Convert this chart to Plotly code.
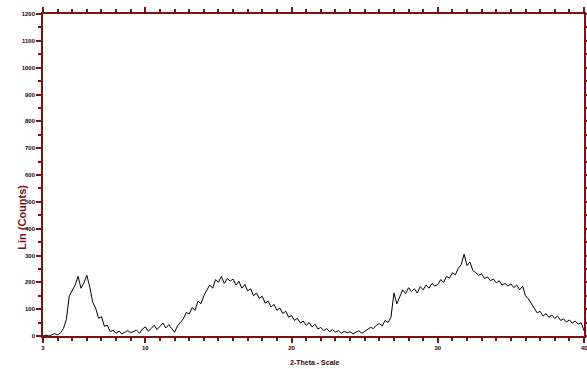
import plotly.graph_objects as go

# 2-theta scan: start 3.0 deg, step 0.2 deg
theta_start = 3.0
theta_step = 0.2

counts = [
    0, 3, 0, 6, 9,            # 3
    4, 12, 28, 62, 150,       # 4
    172, 190, 222, 178, 198,  # 5
    226, 182, 126, 104, 66,   # 6
    72, 36, 40, 16, 22,       # 7
    10, 18, 8, 14, 20,        # 8
    12, 16, 22, 10, 26,       # 9
    34, 18, 28, 40, 24,       # 10
    36, 48, 30, 42, 28,       # 11
    14, 38, 52, 64, 88,       # 12
    82, 106, 96, 130, 120,    # 13
    150, 172, 190, 178, 210,  # 14
    200, 222, 196, 214, 205,  # 15
    212, 190, 204, 178, 192,  # 16
    168, 176, 150, 160, 140,  # 17
    148, 122, 130, 108, 118,  # 18
    96, 104, 84, 92, 70,      # 19
    76, 58, 66, 48, 56,       # 20
    40, 50, 34, 44, 26,       # 21
    32, 20, 28, 16, 24,       # 22
    14, 20, 10, 18, 12,       # 23
    16, 8, 14, 20, 10,        # 24
    18, 24, 32, 28, 40,       # 25
    46, 38, 58, 50, 70,       # 26
    160, 120, 150, 172, 158,  # 27
    180, 166, 176, 160, 184,  # 28
    172, 190, 178, 196, 186,  # 29
    192, 210, 200, 222, 216,  # 30
    236, 228, 252, 266, 305,  # 31
    262, 276, 244, 236, 226,  # 32
    232, 214, 220, 206, 212,  # 33
    198, 206, 190, 196, 186,  # 34
    194, 180, 190, 172, 186,  # 35
    150, 138, 120, 104, 86,   # 36
    92, 74, 84, 70, 78,       # 37
    66, 74, 58, 64, 52,       # 38
    60, 48, 56, 44, 50,       # 39
    20,                       # 40
]
two_theta = [round(theta_start + theta_step * i, 2) for i in range(len(counts))]

x_tickvals = [3, 10, 20, 30, 40]
y_tickvals = [0, 100, 200, 300, 400, 500, 600, 700, 800, 900, 1000, 1100, 1200]

axis_color = "#7a1212"
label_font = dict(family="Liberation Sans, Arial, sans-serif", size=6, color="#2a0505", weight="bold")

fig = go.Figure()
fig.add_trace(go.Scatter(x=two_theta, y=counts, mode="lines",
                         line=dict(color="black", width=1)))

fig.update_layout(
    width=587, height=369,
    margin=dict(l=43, r=3, t=14, b=33),
    paper_bgcolor="white", plot_bgcolor="white",
    showlegend=False,
    xaxis=dict(range=[3, 40], tickvals=x_tickvals, ticktext=[str(v) for v in x_tickvals],
               automargin=False, ticklabeloverflow="allow",
               showgrid=False, zeroline=False, showline=True, linecolor=axis_color, linewidth=1.5,
               mirror="ticks", ticks="outside", ticklen=5, tickcolor=axis_color, tickwidth=1.5,
               minor=dict(dtick=1, ticks="outside", ticklen=3, tickcolor=axis_color),
               tickfont=label_font),
    yaxis=dict(range=[0, 1200], tickvals=y_tickvals, ticktext=[str(v) for v in y_tickvals],
               automargin=False, ticklabeloverflow="allow",
               showgrid=False, zeroline=False, showline=True, linecolor=axis_color, linewidth=1.5,
               mirror="ticks", ticks="outside", ticklen=5, tickcolor=axis_color, tickwidth=1.5,
               minor=dict(dtick=50, ticks="outside", ticklen=3, tickcolor=axis_color),
               tickfont=label_font),
    annotations=[
        dict(text="<b>Lin (Counts)</b>", textangle=-90, xref="paper", yref="paper",
             x=-0.039, y=0.37, xanchor="center", yanchor="middle", showarrow=False,
             font=dict(family="Liberation Sans, Arial, sans-serif", size=11, color=axis_color)),
        dict(text="<b>2-Theta - Scale</b>", xref="paper", yref="paper",
             x=0.503, y=-0.081, xanchor="center", yanchor="middle", showarrow=False,
             font=dict(family="Liberation Sans, Arial, sans-serif", size=7, color="#3a0505")),
    ],
)

fig.write_html(
    "out.html",
    config={"displayModeBar": False},
    post_script="document.body.style.margin='0';document.documentElement.style.overflow='hidden';",
)
